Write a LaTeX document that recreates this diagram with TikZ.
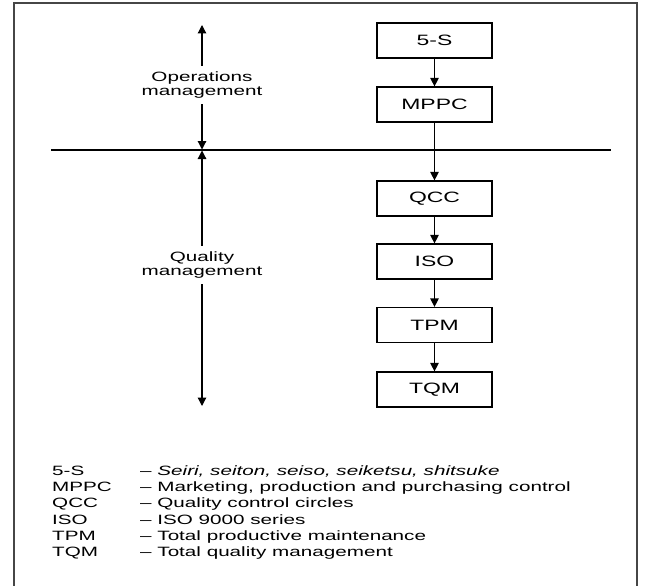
\documentclass[tikz,border=0pt]{standalone}
\usepackage{fontspec}
\setmainfont{Liberation Sans}[FakeStretch=1.53]
\usetikzlibrary{arrows.meta}

\begin{document}
\begin{tikzpicture}[x=1pt,y=1pt,yscale=-1,xscale=1,
    stage/.style={draw, line width=1.2pt, minimum width=115pt, minimum height=35pt, inner sep=0pt, font=\fontsize{15}{18}\selectfont},
    span/.style={align=center, inner sep=6pt, font=\fontsize{13.5}{14}\selectfont},
    flow/.style={line width=1.2pt, -{Triangle[width=8.5pt,length=8.5pt]}},
    abbr/.style={anchor=base west, inner sep=0pt, font=\fontsize{13.5}{16}\selectfont}]
    \useasboundingbox (0,0) rectangle (651,586);
    %Frame
    \draw [line width=2pt, color={rgb,255:red,70;green,70;blue,70}] (14,600) -- (14,3) -- (637,3) -- (637,600);
    %Divider
    \coordinate (divL) at (51,150);
    \coordinate (divR) at (611,150);
    \draw [line width=1.1pt] (divL) -- (divR);
    %Chain of stages
    \node [stage] (fiveS) at (434.5,40.5) {5-S};
    \node [stage] (mppc) at (434.5,104.5) {MPPC};
    \node [stage] (qcc) at (434.5,198.5) {QCC};
    \node [stage] (iso) at (434.5,261.5) {ISO};
    \node [stage] (tpm) at (434.5,325) {TPM};
    \node [stage] (tqm) at (434.5,389.5) {TQM};
    \draw [flow] (fiveS) -- (mppc);
    \draw [flow] (mppc) -- (qcc);
    \draw [flow] (qcc) -- (iso);
    \draw [flow] (iso) -- (tpm);
    \draw [flow] (tpm) -- (tqm);
    %Spans on the left
    \coordinate (opsTop) at (202,25);
    \coordinate (opsEnd) at (202,149.5);
    \coordinate (qualTop) at (202,150.5);
    \coordinate (qualEnd) at (202,406);
    \node [span] (ops) at (202,85) {Operations\\management};
    \node [span] (qual) at (202,265) {Quality\\management};
    \draw [flow] (ops) -- (opsTop);
    \draw [flow] (ops) -- (opsEnd);
    \draw [flow] (qual) -- (qualTop);
    \draw [flow] (qual) -- (qualEnd);
    %Key
    \node [abbr] (k1) at (52,475.5) {5-S};
    \node [abbr] (t1) at (140,475.5) {-- \textit{Seiri, seiton, seiso, seiketsu, shitsuke}};
    \node [abbr] (k2) at (52,491.5) {MPPC};
    \node [abbr] (t2) at (140,491.5) {-- Marketing, production and purchasing control};
    \node [abbr] (k3) at (52,507.5) {QCC};
    \node [abbr] (t3) at (140,507.5) {-- Quality control circles};
    \node [abbr] (k4) at (52,524) {ISO};
    \node [abbr] (t4) at (140,524) {-- ISO 9000 series};
    \node [abbr] (k5) at (52,540) {TPM};
    \node [abbr] (t5) at (140,540) {-- Total productive maintenance};
    \node [abbr] (k6) at (52,556) {TQM};
    \node [abbr] (t6) at (140,556) {-- Total quality management};
\end{tikzpicture}
\end{document}
